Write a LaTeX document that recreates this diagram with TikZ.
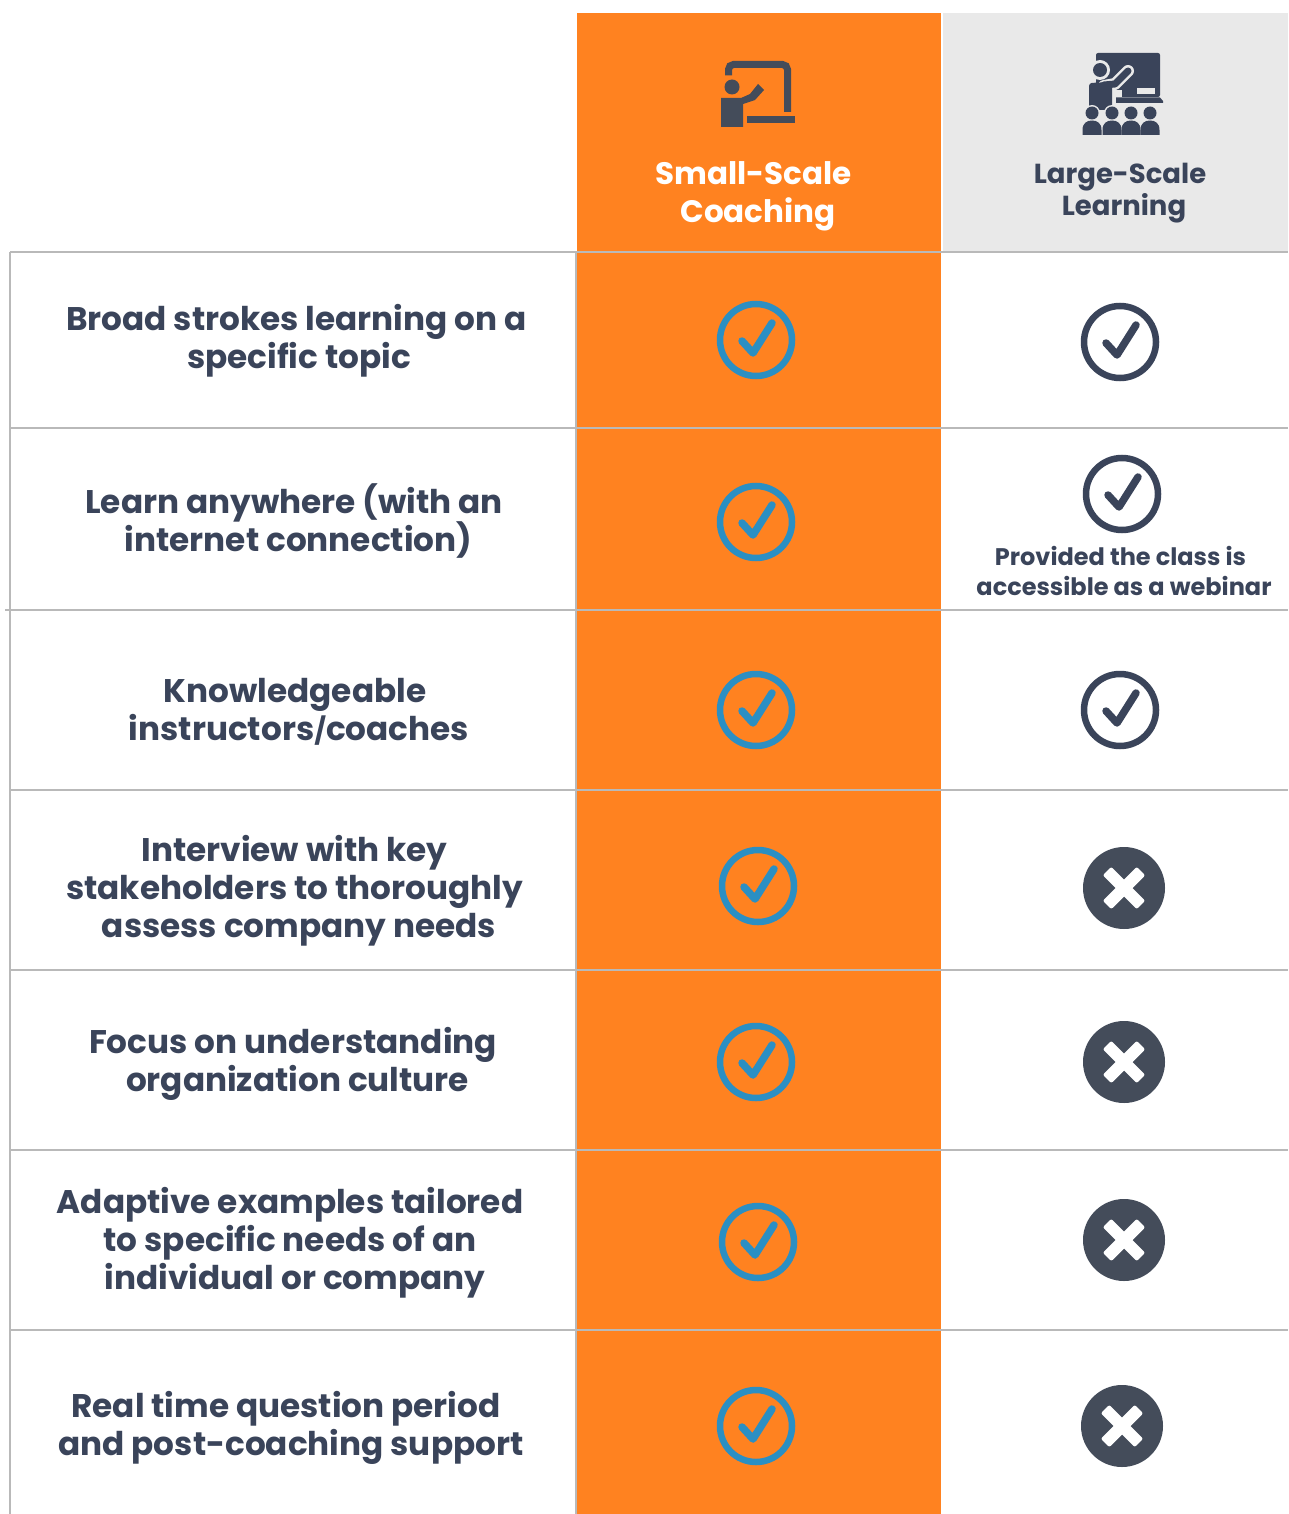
\documentclass[tikz,border=0pt]{standalone}
\usepackage{fontspec}
\setmainfont{Poppins}[UprightFont=* Bold,BoldFont=* Bold]
\lineskiplimit=-100pt
\definecolor{ink}{HTML}{3A445A}
\definecolor{dark}{HTML}{444C5A}
\definecolor{org}{HTML}{FF8220}
\definecolor{pale}{HTML}{E9E9E9}
\definecolor{rule}{HTML}{B9B9B9}
\definecolor{tick}{HTML}{2B8FC3}
\newcommand{\off}[1]{\hspace*{#1pt}}
\tikzset{
 rowtext/.style={text=ink,align=center,font=\fontsize{32.7}{38}\selectfont},
 hsmall/.style={text=white,align=center,font=\fontsize{31}{38}\selectfont},
 hlarge/.style={text=ink,align=center,font=\fontsize{27.5}{32}\selectfont},
 note/.style={text=ink,align=center,font=\fontsize{24}{30}\selectfont},
 tableline/.style={draw=rule,line width=2pt},
 checkring/.style={draw=#1,line width=6.5pt},
 checktick/.style={draw=#1,line width=7.5pt,line cap=round,line join=round},
}
\newcommand{\checkmk}[3]{%
 \begin{scope}[shift={(#1,#2)}]
 \draw[checkring=#3] (0,0) circle (36);
 \draw[checktick=#3] (-14,1) -- (-3,13) -- (16,-17);
 \end{scope}}
\newcommand{\crossmk}[2]{%
 \begin{scope}[shift={(#1,#2)}]
 \fill[dark] (0,0) circle (41);
 \foreach \a in {45,135}{
  \fill[white,rounded corners=2pt,rotate=\a] (-24,-6) rectangle (24,6);
 }
 \end{scope}}
\begin{document}
\begin{tikzpicture}[x=1pt,y=-1pt]
\useasboundingbox (0,0) rectangle (1288,1514);
\fill[white] (0,0) rectangle (1288,1514);
\fill[org] (577,13) rectangle (941,1514);
\fill[pale] (943,13) rectangle (1288,251);
% table lines
\foreach \y in {252,428,610,790,970,1150,1330}{\draw[tableline] (10,\y) -- (1288,\y);}
\draw[tableline] (5,610) -- (10,610);
\draw[tableline] (10,252) -- (10,1514);
\draw[tableline] (576,252) -- (576,1514);
% small icon
\draw[dark,line width=7pt,rounded corners=5pt] (728.5,75.5) -- (728.5,64.5) -- (787.5,64.5) -- (787.5,112);
\fill[dark] (747,116) rectangle (795,123);
\fill[dark] (732,87) circle (7.5);
\fill[dark] (721,98) -- (741,98) -- (750,94) -- (758,84) -- (764,90) -- (755,100) -- (743,104) -- (743,127) -- (721,127) -- cycle;
% large icon
\fill[ink,rounded corners=2pt] (1096,53) rectangle (1160,97);
\fill[pale] (1137,88) rectangle (1155,94);
\fill[ink] (1116,97.5) -- (1160,97.5) -- (1163,101) -- (1163,103) -- (1115,103) -- cycle;
\fill[pale] (1100,70) circle (10);
\fill[ink] (1100,70) circle (7);
\draw[pale,line width=12pt,line cap=round,line join=round] (1104,86) -- (1115,84) -- (1128,71);
\fill[pale] (1112,88) rectangle (1116,104);
\fill[pale] (1112,90) rectangle (1122,97);
\fill[ink,rounded corners=3pt] (1089,110) -- (1089,83) -- (1112,82) -- (1112,110) -- cycle;
\draw[ink,line width=7pt,line cap=round,line join=round] (1104,85) -- (1115,84) -- (1128,71);
\foreach \hx in {1092,1112,1131,1150}{
 \fill[pale] (\hx,113) circle (8);
}
\foreach \hx in {1092,1112,1131,1150}{
 \fill[ink] (\hx,113) circle (6.5);
 \fill[ink] (\hx-9.5,135) -- (\hx-9.5,130) .. controls (\hx-9.5,123) and (\hx-5,120.5) .. (\hx,120.5) .. controls (\hx+5,120.5) and (\hx+9.5,123) .. (\hx+9.5,130) -- (\hx+9.5,135) -- cycle;
}
% headers
\node[hsmall] (hs) at (753.5,196.5) {Small-Scale\\\off{9}Coaching};
\node[hlarge] (hl) at (1120,193) {Large-Scale\\\off{8}Learning};
% rows
\node[rowtext] (r1) at (296.5,341) {Broad strokes learning on a\\\off{5}specific topic};
\node[rowtext] (r2) at (294,521) {Learn anywhere (with an\\\off{9}internet connection)};
\node[rowtext] (r3) at (295,712) {Knowledgeable\\\off{8}instructors{\fontsize{26}{38}\selectfont/}coaches};
\node[rowtext] (r4) at (294.5,891) {Interview with key\\stakeholders to thoroughly\\\off{9}assess company needs};
\node[rowtext] (r5) at (293,1064) {Focus on understanding\\\off{9}organization culture};
\node[rowtext] (r6) at (290,1243) {Adaptive examples tailored\\to specific needs of an\\\off{10}individual or company};
\node[rowtext] (r7) at (286,1428) {Real time question period\\\off{10}and post-coaching support};
\node[note] (n2) at (1120.5,571) {Provided the class is\\\off{7}accessible as a webinar};
% marks
\checkmk{756}{340}{tick}
\checkmk{756}{522}{tick}
\checkmk{756}{710}{tick}
\checkmk{758}{886}{tick}
\checkmk{756}{1062}{tick}
\checkmk{758}{1242}{tick}
\checkmk{756}{1426}{tick}
\checkmk{1120}{342}{ink}
\checkmk{1122}{494}{ink}
\checkmk{1120}{710}{ink}
\crossmk{1124}{888}
\crossmk{1124}{1062}
\crossmk{1124}{1240}
\crossmk{1122}{1426}
\end{tikzpicture}
\end{document}
